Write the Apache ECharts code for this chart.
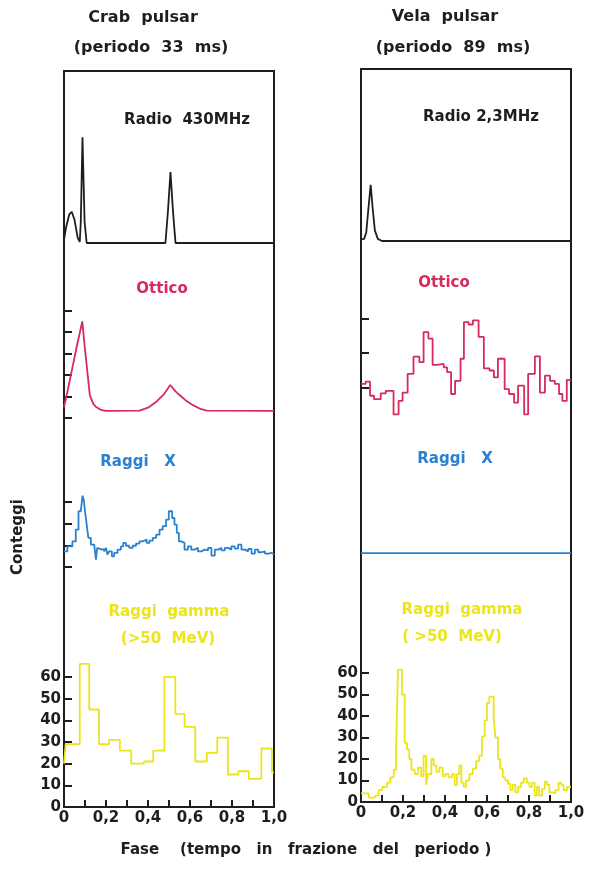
<!DOCTYPE html>
<html>
<head>
<meta charset="utf-8">
<script src="https://cdn.jsdelivr.net/npm/echarts@6/dist/echarts.min.js"></script>
<style>
  html, body { margin: 0; background: #fff; }
  #chart { width: 592px; height: 880px; }
</style>
</head>
<body>
<div id="chart"></div>
<script>
// phase axis ticks / labels (shared by both pulsars)
const phaseTicks = [0, 0.1, 0.2, 0.3, 0.4, 0.5, 0.6, 0.7, 0.8, 0.9, 1.0];
const phaseLabels = [0, 0.2, 0.4, 0.6, 0.8, 1.0];
const gammaTicks = [10, 20, 30, 40, 50, 60];
const gammaLabels = [0, 10, 20, 30, 40, 50, 60];
const crabOptTicks = [0, 1, 2, 3, 4, 5];
const crabXTicks = [0, 1, 2, 3];
const velaOptTicks = [1, 2, 3];

// Crab - radio 430 MHz (arbitrary units)
const crabRadioPhase = [0, 0.01, 0.025, 0.037, 0.05, 0.065, 0.075, 0.08, 0.088, 0.098, 0.108, 0.483, 0.495, 0.507, 0.519, 0.531, 1.0];
const crabRadio      = [0.3, 1.5, 2.7, 2.95, 2.2, 0.5, 0.1, 2, 10, 2, 0, 0, 3, 6.7, 3, 0, 0];

// Crab - optical
const crabOptPhase = [0, 0.02, 0.04, 0.06, 0.087, 0.1, 0.123, 0.14, 0.155, 0.175, 0.2, 0.36, 0.4, 0.44, 0.475, 0.506, 0.53, 0.55, 0.58, 0.614, 0.65, 0.68, 1.0];
const crabOpt      = [0.5, 1.4, 2.35, 3.3, 4.5, 3.2, 1.07, 0.65, 0.5, 0.38, 0.33, 0.34, 0.48, 0.76, 1.1, 1.54, 1.25, 1.07, 0.82, 0.6, 0.42, 0.34, 0.33];

// Crab - X rays (histogram, left bin edges)
const crabXPhase = [0, 0.016, 0.04, 0.056, 0.069, 0.08, 0.088, 0.094, 0.1, 0.107, 0.116, 0.128, 0.144, 0.152, 0.158, 0.167, 0.18, 0.191, 0.2, 0.207, 0.215, 0.228, 0.239, 0.255, 0.271, 0.282, 0.295, 0.311, 0.327, 0.343, 0.359, 0.375, 0.394, 0.407, 0.423, 0.439, 0.455, 0.47, 0.486, 0.499, 0.515, 0.526, 0.537, 0.547, 0.558, 0.574, 0.59, 0.606, 0.622, 0.638, 0.654, 0.67, 0.686, 0.702, 0.718, 0.734, 0.75, 0.766, 0.781, 0.797, 0.813, 0.829, 0.845, 0.861, 0.877, 0.893, 0.909, 0.925, 0.941, 0.957, 0.973, 0.989];
const crabX      = [0.72, 0.95, 1.18, 1.72, 2.57, 2.6, 3.29, 3.1, 2.57, 2.03, 1.34, 1.03, 0.95, 0.34, 0.88, 0.8, 0.83, 0.72, 0.88, 0.57, 0.72, 0.49, 0.65, 0.8, 0.95, 1.11, 0.98, 0.88, 0.98, 1.08, 1.18, 1.26, 1.11, 1.22, 1.34, 1.49, 1.72, 1.88, 2.18, 2.57, 2.26, 1.95, 1.57, 1.18, 1.11, 0.8, 0.95, 0.8, 0.88, 0.72, 0.8, 0.77, 0.88, 0.52, 0.8, 0.88, 0.77, 0.88, 0.8, 0.95, 0.85, 1.03, 0.8, 0.72, 0.83, 0.62, 0.8, 0.68, 0.72, 0.62, 0.65, 0.57];

// Crab - gamma rays > 50 MeV (counts, left bin edges)
const crabGammaPhase = [0, 0.008, 0.075, 0.12, 0.167, 0.215, 0.266, 0.32, 0.38, 0.425, 0.478, 0.53, 0.574, 0.625, 0.68, 0.73, 0.78, 0.83, 0.88, 0.94, 0.99];
const crabGamma      = [20, 29, 66, 45, 29, 31, 26, 20, 21, 26, 60, 43, 37, 21, 25, 32, 15, 16.5, 13, 27, 16];

// Vela - radio 2,3 MHz
const velaRadioPhase = [0, 0.015, 0.025, 0.035, 0.046, 0.056, 0.066, 0.08, 0.1, 1.0];
const velaRadio      = [0.15, 0.2, 0.8, 3, 5.3, 3, 1, 0.2, 0, 0];

// Vela - optical (histogram, left bin edges)
const velaOptPhase = [0, 0.022, 0.043, 0.062, 0.094, 0.118, 0.155, 0.179, 0.198, 0.222, 0.25, 0.278, 0.298, 0.321, 0.341, 0.362, 0.394, 0.41, 0.429, 0.448, 0.474, 0.49, 0.512, 0.533, 0.56, 0.585, 0.612, 0.633, 0.652, 0.684, 0.705, 0.729, 0.748, 0.777, 0.796, 0.828, 0.852, 0.876, 0.9, 0.923, 0.943, 0.959, 0.98];
const velaOpt      = [1.1, 1.17, 0.76, 0.66, 0.83, 0.9, 0.22, 0.61, 0.85, 1.39, 1.89, 1.73, 2.6, 2.41, 1.65, 1.68, 1.58, 1.44, 0.81, 1.19, 1.83, 2.89, 2.82, 2.94, 2.46, 1.55, 1.49, 1.29, 1.83, 0.95, 0.81, 0.56, 1.05, 0.22, 1.39, 1.9, 0.85, 1.34, 1.19, 1.1, 0.81, 0.61, 1.22];

// Vela - X rays (no pulsation)
const velaXPhase = [0, 1.0];
const velaX      = [0.5, 0.5];

// Vela - gamma rays > 50 MeV (counts, left bin edges)
const velaGammaPhase = [0, 0.037, 0.068, 0.084, 0.1, 0.124, 0.14, 0.156, 0.167, 0.176, 0.195, 0.208, 0.219, 0.23, 0.24, 0.256, 0.271, 0.287, 0.298, 0.31, 0.319, 0.335, 0.346, 0.359, 0.373, 0.389, 0.402, 0.417, 0.433, 0.446, 0.457, 0.468, 0.478, 0.489, 0.5, 0.516, 0.532, 0.548, 0.563, 0.576, 0.589, 0.6, 0.611, 0.632, 0.64, 0.652, 0.663, 0.675, 0.687, 0.7, 0.711, 0.722, 0.735, 0.748, 0.762, 0.775, 0.79, 0.802, 0.814, 0.827, 0.838, 0.849, 0.862, 0.875, 0.886, 0.897, 0.91, 0.925, 0.941, 0.954, 0.965, 0.981];
const velaGamma      = [4, 2, 3, 5.5, 7, 9, 11.5, 15, 25, 61.5, 50, 27.5, 24.5, 20, 15, 13, 16, 12, 21.5, 8, 13, 20, 17, 14, 16, 12, 13, 11.5, 13, 8, 13, 17, 9, 7, 10, 13, 15.5, 19, 21.5, 30.5, 38, 46, 49, 39, 30, 20, 15.5, 11.5, 10, 8.5, 5.5, 8, 4.5, 7, 9, 11, 9, 7, 9, 3, 7, 3, 6, 9.5, 8, 4.5, 4, 5.5, 9, 8, 5.5, 7];

const FONT = 'DejaVu Sans';
const INK = '#1e1e1e';
const RED = '#d62b5c';
const BLUE = '#2b80d0';
const YELLOW = '#ece51c';

const pairs = (xs, ys) => xs.map((x, i) => [x, ys[i]]);
const steps = (xs, ys) => pairs(xs, ys).concat([[1.0, ys[ys.length - 1]]]);
const fmtPhase = v => (v === 0 ? '0' : v.toFixed(1).replace('.', ','));

// panel layout: [left, top, width, height, yMin, yMax]
const panels = [
  [64, 71, 210, 736, 0, 1],        // 0 crab frame
  [64, 116, 210, 127, 0, 12],      // 1 crab radio
  [64, 300, 210, 118, 0, 5.5],     // 2 crab optical
  [64, 469.4, 210, 97.6, 0, 4.5],  // 3 crab X
  [64, 655.3, 210, 151.7, 0, 70],  // 4 crab gamma
  [361, 69, 210, 733, 0, 1],       // 5 vela frame
  [361, 114, 210, 127, 0, 12],     // 6 vela radio
  [361, 301, 210, 121, 0, 3.5],    // 7 vela optical
  [361, 486, 210, 78, 0, 3.6],     // 8 vela X
  [361, 651.5, 210, 150.5, 0, 70]  // 9 vela gamma
];

const grid = panels.map((p, i) => ({
  left: p[0], top: p[1], width: p[2], height: p[3],
  show: i === 0 || i === 5,
  borderColor: INK, borderWidth: 2,
  backgroundColor: 'transparent'
}));

const xAxis = panels.map((p, i) => {
  const bottom = i === 4 || i === 9;
  return {
    type: 'value', gridIndex: i, min: 0, max: 1,
    show: bottom,
    axisLine: { show: false },
    splitLine: { show: false },
    axisTick: { show: true, inside: true, length: 7, lineStyle: { color: INK, width: 2 }, customValues: phaseTicks },
    axisLabel: {
      show: true, customValues: phaseLabels, formatter: fmtPhase,
      color: INK, fontFamily: FONT, fontWeight: 'bold', fontSize: 15, margin: 4
    }
  };
});

const yTicks = { 2: crabOptTicks, 3: crabXTicks, 4: gammaTicks, 7: velaOptTicks, 9: gammaTicks };
const yAxis = panels.map((p, i) => {
  const gamma = i === 4 || i === 9;
  return {
    type: 'value', gridIndex: i, min: p[4], max: p[5],
    show: !!yTicks[i],
    axisLine: { show: false },
    splitLine: { show: false },
    axisTick: { show: true, inside: true, length: 8, lineStyle: { color: INK, width: 2 }, customValues: yTicks[i] || [] },
    axisLabel: {
      show: gamma, customValues: gammaLabels, margin: 3,
      color: INK, fontFamily: FONT, fontWeight: 'bold', fontSize: 15
    }
  };
});

const line = (idx, data, color, step) => ({
  type: 'line', xAxisIndex: idx, yAxisIndex: idx, data,
  step: step ? 'end' : false,
  showSymbol: false, silent: true, clip: false,
  lineStyle: { color, width: 1.8 },
  z: 3
});

const series = [
  line(1, pairs(crabRadioPhase, crabRadio), INK, false),
  line(2, pairs(crabOptPhase, crabOpt), RED, false),
  line(3, steps(crabXPhase, crabX), BLUE, true),
  line(4, steps(crabGammaPhase, crabGamma), YELLOW, true),
  line(6, pairs(velaRadioPhase, velaRadio), INK, false),
  line(7, steps(velaOptPhase, velaOpt), RED, true),
  line(8, pairs(velaXPhase, velaX), BLUE, false),
  line(9, steps(velaGammaPhase, velaGamma), YELLOW, true)
];

const label = (text, x, y, color, size, extra) => Object.assign({
  type: 'text', x, y, silent: true,
  style: {
    text, fill: color, font: `bold ${size || 15}px "${FONT}"`,
    align: 'center', verticalAlign: 'middle'
  }
}, extra || {});

const graphic = [
  label('Crab  pulsar', 143, 18, INK, 16),
  label('(periodo  33  ms)', 151, 48, INK, 16),
  label('Vela  pulsar', 445, 17, INK, 16),
  label('(periodo  89  ms)', 453, 48, INK, 16),
  label('Radio  430MHz', 187, 120, INK, 15),
  label('Radio 2,3MHz', 481, 117, INK, 15),
  label('Ottico', 162, 289, RED, 15),
  label('Ottico', 444, 283, RED, 15),
  label('Raggi   X', 138, 462, BLUE, 15),
  label('Raggi   X', 455, 459, BLUE, 15),
  label('Raggi  gamma', 169, 612, YELLOW, 15),
  label('(>50  MeV)', 168, 639, YELLOW, 15),
  label('Raggi  gamma', 462, 610, YELLOW, 15),
  label('( >50  MeV)', 452, 637, YELLOW, 15),
  label('Conteggi', 18, 537, INK, 15, { rotation: Math.PI / 2 }),
  label('Fase    (tempo   in   frazione   del   periodo )', 306, 850, INK, 15)
];

const chart = echarts.init(document.getElementById('chart'), null, { renderer: 'canvas' });
chart.setOption({
  backgroundColor: '#fff',
  animation: false,
  grid, xAxis, yAxis, series, graphic
});
</script>
</body>
</html>
